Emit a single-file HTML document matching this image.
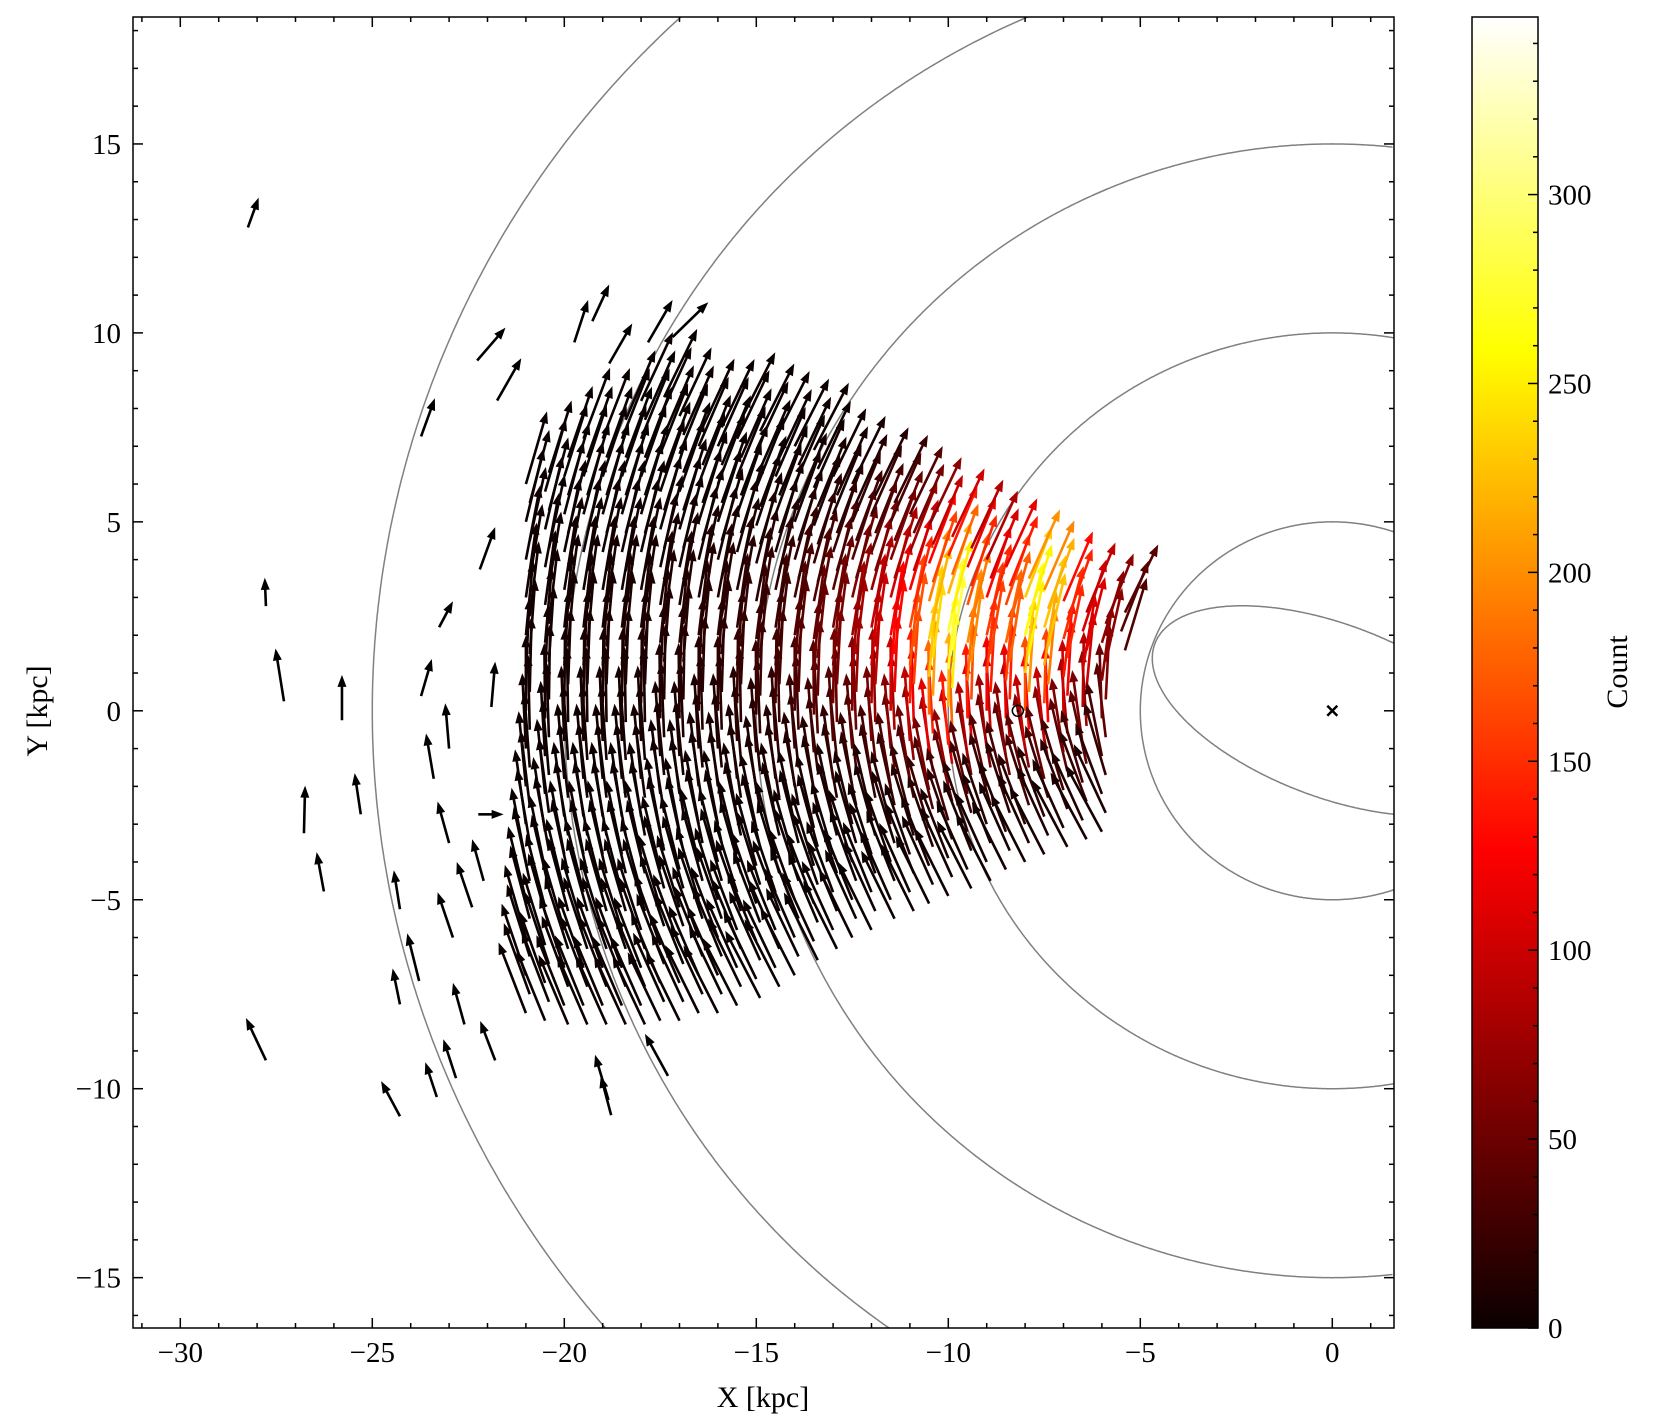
<!DOCTYPE html>
<html><head><meta charset="utf-8"><style>
html,body{margin:0;padding:0;background:#fff;overflow:hidden;width:1654px;height:1426px;}
svg{display:block;font-family:"Liberation Serif",serif;overflow:hidden;}
</style></head><body>
<svg id="chart" width="1654" height="1426" viewBox="0 0 1654 1426" xmlns="http://www.w3.org/2000/svg">
<defs>
<clipPath id="plotclip"><rect x="133" y="17" width="1261" height="1311"/></clipPath>
<linearGradient id="hotgrad" x1="0" y1="1" x2="0" y2="0">
<stop offset="0" stop-color="#0b0000"/><stop offset="0.365" stop-color="#ff0000"/>
<stop offset="0.746" stop-color="#ffff00"/><stop offset="1" stop-color="#ffffff"/>
</linearGradient>
</defs>
<g id="plot"></g>
<text x="763" y="1407" font-size="30" text-anchor="middle">X [kpc]</text>
<text transform="translate(47,711) rotate(-90)" font-size="30" text-anchor="middle">Y [kpc]</text>
<rect x="1472" y="17" width="66" height="1311" fill="url(#hotgrad)" stroke="#000" stroke-width="1.5"/>
<g id="cbticks"></g>
<text transform="translate(1627,672) rotate(-90)" font-size="30" text-anchor="middle">Count</text>
</svg>
<script>
// ---- data ----
const colX   = [-21,-20.5,-20,-19.5,-19,-18.5,-18,-17.5,-17,-16.5,-16,-15.5,-15,-14.5,-14,-13.5,-13,-12.5,-12,-11.5,-11,-10.5,-10,-9.5,-9,-8.5,-8,-7.5,-7,-6.5,-6,-5.5];
const colTop = [6.0,6.5,7.0,7.3,7.6,8.0,8.3,8.3,8.0,7.9,7.9,7.8,7.6,7.4,7.2,6.9,6.6,6.3,6.0,5.7,5.4,5.1,4.9,4.6,4.3,4.0,3.8,3.5,3.2,3.0,2.7,2.6];
const colBot = [-8.0,-8.2,-8.3,-8.3,-8.3,-8.3,-8.3,-8.2,-8.2,-8.0,-8.0,-7.8,-7.6,-7.3,-7.0,-6.6,-6.3,-6.0,-5.8,-5.5,-5.3,-5.1,-4.9,-4.7,-4.5,-4.2,-4.0,-3.8,-3.6,-3.4,-3.2,1.6];
const colPeak= [5,5,6,7,8,9,10,12,14,16,18,22,26,30,40,50,60,80,100,130,170,240,280,200,160,180,260,230,150,110,70,40];
const colCenter=[1,1,1,1,1,1,1,1,1,1,1,1,1,1,1.2,1.2,1.3,1.4,1.5,1.5,1.5,1.5,1.6,1.6,1.6,1.8,2.0,2.0,1.8,1.5,1.5,2.5];
// sparse outlying arrows: tail x, tail y, head x, head y
const sparseTX=[-28.24,-23.73,-22.27,-21.75,-27.77,-27.3,-25.79,-26.78,-26.26,-25.3,-24.28,-27.77,-24.28,-23.32,-22.82,-21.8,-24.28,-23.78,-23.73,-23.26,-22.2,-18.78,-18.85,-17.3,-19.74,-19.27,-18.83,-17.82,-17.18,-22.24,-23.4,-23.0,-22.4,-22.9,-23.0,-21.9,-22.1,-22.6];
const sparseTY=[12.79,7.26,9.27,8.21,2.77,0.25,-0.25,-3.24,-4.78,-2.74,-5.25,-9.25,-10.73,-10.22,-9.72,-9.25,-7.77,-7.15,0.39,2.21,3.74,-10.7,-10.3,-9.66,9.75,10.31,9.19,9.75,9.89,-2.74,-1.8,-3.5,-5.2,-6.0,-1.0,0.1,-4.5,-8.3];
const sparseHX=[-27.96,-23.37,-21.53,-21.12,-27.8,-27.52,-25.79,-26.75,-26.45,-25.46,-24.44,-28.29,-24.77,-23.62,-23.15,-22.19,-24.47,-24.09,-23.45,-22.9,-21.8,-19.05,-19.2,-17.9,-19.38,-18.83,-18.23,-17.18,-16.25,-21.58,-23.6,-23.3,-22.8,-23.3,-23.1,-21.8,-22.4,-22.9];
const sparseHY=[13.58,8.27,10.14,9.33,3.52,1.65,0.95,-1.98,-3.74,-1.65,-4.22,-8.13,-9.8,-9.3,-8.69,-8.21,-6.82,-5.89,1.37,2.9,4.86,-9.66,-9.1,-8.55,10.87,11.28,10.25,10.87,10.81,-2.74,-0.6,-2.4,-4.0,-4.8,0.2,1.3,-3.4,-7.2];
const circleR=[5,10,15,20,25];
const xTicks=[-30,-25,-20,-15,-10,-5,0];
const yTicks=[-15,-10,-5,0,5,10,15];
const cbTicks=[0,50,100,150,200,250,300];
const sun=[-8.19,0];
const center=[0,0];
// ---- axes ----
const X0=1332.3, PX=38.4, Y0=710.8, PY=37.79;
const xs=v=>X0+v*PX, ys=v=>Y0-v*PY;
const CMAX=347, cbY=v=>1328-v*(1311/CMAX);
const L0=133,R0=1394,T0=17,B0=1328;
const NS='http://www.w3.org/2000/svg';
function mk(tag,attrs,parent){const e=document.createElementNS(NS,tag);for(const k in attrs)e.setAttribute(k,attrs[k]);parent.appendChild(e);return e;}
function hot(c){let t=Math.max(0,Math.min(1,c/CMAX));
 let r=Math.min(1,0.0416+t/0.365*(1-0.0416)),g=Math.max(0,Math.min(1,(t-0.365)/0.381)),b=Math.max(0,Math.min(1,(t-0.746)/0.254));
 return `rgb(${Math.round(r*255)},${Math.round(g*255)},${Math.round(b*255)})`;}
const plot=document.getElementById('plot');
const clipG=mk('g',{'clip-path':'url(#plotclip)'},plot);


// circles drawn as sampled paths limited to the plot area
circleR.forEach(r=>{
 let d='',pen=false;
 for(let i=0;i<=1440;i++){const a=i/1440*2*Math.PI;
  const px=xs(r*Math.cos(a)),py=ys(r*Math.sin(a));
  const inside=px>=L0-1&&px<=R0+1&&py>=T0-1&&py<=B0+1;
  if(inside){d+=(pen?'L':'M')+px.toFixed(1)+','+py.toFixed(1);pen=true;}else pen=false;}
 const c=mk('path',{d:d,fill:'none',stroke:'#808080','stroke-width':1.5},clipG);
 
 });
{
 let d='',pen=false;const ang=-21.2*Math.PI/180;
 for(let i=0;i<=720;i++){const t=i/720*2*Math.PI;
  const lx=4.95*Math.cos(t),ly=2.28*Math.sin(t);
  const x=lx*Math.cos(ang)-ly*Math.sin(ang),y=lx*Math.sin(ang)+ly*Math.cos(ang);
  const px=xs(x),py=ys(y);
  if(px<=R0+1){d+=(pen?'L':'M')+px.toFixed(1)+','+py.toFixed(1);pen=true;}else pen=false;}
 const el=mk('path',{d:d,fill:'none',stroke:'#808080','stroke-width':1.5},clipG);
 
 
}
function arrow(x1,y1,x2,y2,col,parent,name){
 const ax=xs(x1),ay=ys(y1),bx=xs(x2),by=ys(y2);
 const dx=bx-ax,dy=by-ay,L=Math.hypot(dx,dy);if(L<1)return;
 const ux=dx/L,uy=dy/L,hl=Math.min(12,L*0.6),hw=4.5;
 const sx=bx-ux*hl,sy=by-uy*hl;
 const g=mk('g',{},parent);
 
 
 mk('line',{x1:ax,y1:ay,x2:sx+ux*2,y2:sy+uy*2,stroke:col,'stroke-width':2.6},g);
 mk('polygon',{points:`${bx},${by} ${sx-uy*hw},${sy+ux*hw} ${sx+uy*hw},${sy-ux*hw}`,fill:col},g);
}
const arrG=mk('g',{},clipG);


for(let i=0;i<colX.length;i++){
 for(let y=colBot[i];y<=colTop[i]+1e-6;y+=0.5){
  const x=colX[i]+((Math.round(y*2))%2?0.1:0);
  const R=Math.hypot(x,y);const vx=y/R*2.0,vy=-x/R*2.0;
  const c=colPeak[i]*Math.exp(-Math.pow((y-colCenter[i])/3.0,2));
  arrow(x,y,x+vx,y+vy,hot(c),arrG,'arrow');
 }
}
for(let i=0;i<sparseTX.length;i++)arrow(sparseTX[i],sparseTY[i],sparseHX[i],sparseHY[i],'#000',arrG,'outer-arrow');
const sg=mk('g',{},clipG);


mk('circle',{cx:xs(sun[0]),cy:ys(sun[1]),r:5.5,fill:'none',stroke:'#000','stroke-width':1.5},sg);
mk('circle',{cx:xs(sun[0]),cy:ys(sun[1]),r:1.3,fill:'#000'},sg);
const cg=mk('g',{},clipG);


const cx=xs(center[0]),cy=ys(center[1]);
mk('path',{d:`M${cx-5},${cy-5}L${cx+5},${cy+5}M${cx-5},${cy+5}L${cx+5},${cy-5}`,stroke:'#000','stroke-width':2.5},cg);
const fr=mk('rect',{x:L0,y:T0,width:R0-L0,height:B0-T0,fill:'none',stroke:'#000','stroke-width':1.5},plot);


const tg=mk('g',{stroke:'#000','stroke-width':1.5},plot);


for(let v=-31;v<=1;v++){const px=xs(v),L=(v%5===0)?10:5;
 mk('line',{x1:px,y1:B0,x2:px,y2:B0-L},tg);mk('line',{x1:px,y1:T0,x2:px,y2:T0+L},tg);}
for(let v=-16;v<=18;v++){const py=ys(v),L=(v%5===0)?10:5;
 mk('line',{x1:L0,y1:py,x2:L0+L,y2:py},tg);mk('line',{x1:R0,y1:py,x2:R0-L,y2:py},tg);}
xTicks.forEach(v=>{const t=mk('text',{x:xs(v),y:1362,'font-size':29,'text-anchor':'middle'},plot);
 
 
 t.textContent=(v<0?'\u2212'+(-v):''+v);});
yTicks.forEach(v=>{const t=mk('text',{x:121,y:ys(v)+10,'font-size':29,'text-anchor':'end'},plot);
 
 
 t.textContent=(v<0?'\u2212'+(-v):''+v);});
const cbt=document.getElementById('cbticks');
for(let v=0;v<=CMAX;v+=10){const py=cbY(v),L=(v%50===0)?10:5;
 mk('line',{x1:1538,y1:py,x2:1538-L,y2:py,stroke:'#000','stroke-width':1.5},cbt);}
cbTicks.forEach(v=>{const t=mk('text',{x:1548,y:cbY(v)+10,'font-size':29},cbt);
 
 
 t.textContent=''+v;});
</script>
</body></html>
